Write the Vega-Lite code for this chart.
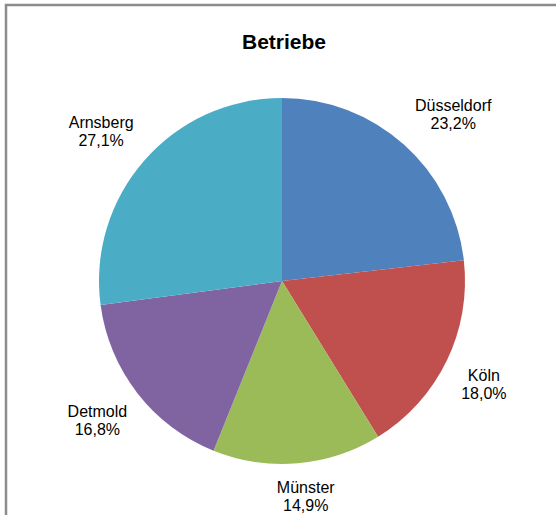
{
  "$schema": "https://vega.github.io/schema/vega-lite/v6.json",
  "autosize": "none",
  "width": 550,
  "height": 510,
  "padding": {"left": 6, "top": 5, "right": 0, "bottom": 0},
  "view": {"stroke": "#8c8c8c", "strokeWidth": 2.5, "strokeDash": [550, 1060, 520], "fill": "#ffffff"},
  "title": {"text": "Betriebe", "font": "Liberation Sans", "fontSize": 21, "fontWeight": "bold", "color": "#000000", "anchor": "middle", "dx": 3, "dy": 52},
  "data": {"values": [
    {"i": 1, "region": "Düsseldorf", "anteil": 0.232},
    {"i": 2, "region": "Köln", "anteil": 0.180},
    {"i": 3, "region": "Münster", "anteil": 0.149},
    {"i": 4, "region": "Detmold", "anteil": 0.168},
    {"i": 5, "region": "Arnsberg", "anteil": 0.271}
  ]},
  "encoding": {
    "theta": {"field": "anteil", "type": "quantitative", "stack": true},
    "order": {"field": "i", "type": "quantitative"}
  },
  "layer": [
    {
      "mark": {"type": "arc", "outerRadius": 183, "yOffset": 21, "xOffset": 1},
      "encoding": {
        "color": {"field": "region", "type": "nominal", "legend": null,
          "scale": {"domain": ["Düsseldorf", "Köln", "Münster", "Detmold", "Arnsberg"],
                    "range": ["#4F81BD", "#C0504D", "#9BBB59", "#8064A2", "#4BACC6"]}}
      }
    },
    {
      "mark": {"type": "text", "radius": 200, "yOffset": 21, "xOffset": 1,
        "dx": {"expr": "max(length(datum.region)*3.8, 22) * clamp(3*sin(PI*(datum.anteil_start+datum.anteil_end)), -1, 1)"},
        "dy": {"expr": "17*clamp(-3*cos(PI*(datum.anteil_start+datum.anteil_end)), -1, 1) - 9"},
        "font": "Liberation Sans", "fontSize": 16, "color": "#000000"},
      "encoding": {"text": {"field": "region", "type": "nominal"}}
    },
    {
      "mark": {"type": "text", "radius": 200, "yOffset": 21, "xOffset": 1,
        "dx": {"expr": "max(length(datum.region)*3.8, 22) * clamp(3*sin(PI*(datum.anteil_start+datum.anteil_end)), -1, 1)"},
        "dy": {"expr": "17*clamp(-3*cos(PI*(datum.anteil_start+datum.anteil_end)), -1, 1) + 9"},
        "font": "Liberation Sans", "fontSize": 16, "color": "#000000"},
      "encoding": {"text": {"field": "anteil", "type": "quantitative", "format": ".1%"}}
    }
  ],
  "config": {
    "locale": {"number": {"decimal": ",", "thousands": ".", "grouping": [3], "currency": ["", " €"]}}
  }
}
